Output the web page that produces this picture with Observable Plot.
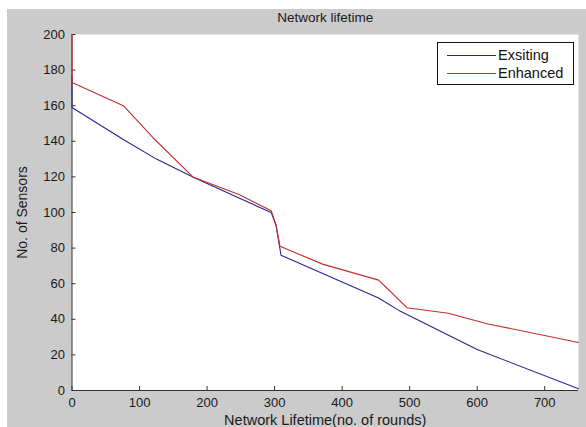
<!DOCTYPE html>
<html>
<head>
<meta charset="utf-8">
<script src="https://cdn.jsdelivr.net/npm/d3@7"></script>
<script src="https://cdn.jsdelivr.net/npm/@observablehq/plot@0.6"></script>
<style>
  html, body { margin: 0; padding: 0; background: #ffffff; }
  #page { position: relative; width: 586px; height: 427px; overflow: hidden; font-family: Arial, "Liberation Sans", sans-serif; }
  #gray { position: absolute; left: 7px; top: 9px; width: 579px; height: 418px; background: #cbcbcb; }
  #chart { position: absolute; left: 0; top: 9px; }
  #legend { position: absolute; left: 437px; top: 42px; width: 135px; height: 41px; background: #fff; border: 1px solid #111; font-size: 14.5px; color: #111; }
  .row { position: absolute; left: 9px; height: 18px; display: flex; align-items: center; }
  .sw { width: 49px; height: 0; border-top: 1px solid; margin-right: 2px; }
</style>
</head>
<body>
<div id="page">
  <div id="gray"></div>
  <div id="chart"></div>
  <div id="legend"></div>
</div>
<script>
const title = "Network lifetime";
const xLabel = "Network Lifetime(no. of rounds)";
const yLabel = "No. of Sensors";
const seriesNames = ["Exsiting", "Enhanced"];
const seriesColors = ["#24249c", "#c62c2c"];

const xTicks = [0, 100, 200, 300, 400, 500, 600, 700];
const yTicks = [0, 20, 40, 60, 80, 100, 120, 140, 160, 180, 200];

const existingX = [0, 0, 76, 125, 179, 248, 295, 302, 309.5, 454, 484, 600, 750];
const existingY = [177, 159, 141, 130, 120, 108, 100, 93, 76, 52, 45, 23, 1];

const enhancedX = [0, 0, 76, 120, 179, 248, 295, 302, 308, 371, 454, 465, 496, 557, 616, 750];
const enhancedY = [200, 173, 160, 142, 120, 110, 101, 93, 81, 71, 62, 58, 46.5, 43.4, 37.4, 27];

const existing = existingX.map((x, i) => ({x, y: existingY[i]}));
const enhanced = enhancedX.map((x, i) => ({x, y: enhancedY[i]}));

const W = 586, H = 418, mt = 25, mb = 37, ml = 71.5, mr = 8;
const plotW = W - ml - mr, plotH = H - mt - mb;
const axisColor = "#333";

const chart = Plot.plot({
  width: W, height: H,
  marginTop: mt, marginBottom: mb, marginLeft: ml, marginRight: mr,
  style: { background: "transparent", fontFamily: "Arial, 'Liberation Sans', sans-serif", fontSize: "13px", color: "#1a1a1a", overflow: "visible" },
  x: { domain: [0, 750] },
  y: { domain: [0, 200] },
  marks: [
    Plot.frame({ fill: "white", stroke: null }),
    Plot.ruleX([0], { stroke: axisColor }),
    Plot.ruleY([0], { stroke: axisColor }),
    Plot.tickX(xTicks, { x: d => d, insetTop: plotH - 4, stroke: axisColor }),
    Plot.tickY(yTicks, { y: d => d, insetRight: plotW - 4, stroke: axisColor }),
    Plot.line(existing, { x: "x", y: "y", stroke: seriesColors[0], strokeWidth: 1.1 }),
    Plot.line(enhanced, { x: "x", y: "y", stroke: seriesColors[1], strokeWidth: 1.1 }),
    Plot.axisX(xTicks, { tickSize: 0, tickPadding: 7, label: null }),
    Plot.axisY(yTicks, { tickSize: 0, tickPadding: 7, label: null }),
    Plot.text([xLabel], { frameAnchor: "bottom", dy: 30, fontSize: 14.5, lineAnchor: "middle" }),
    Plot.text([yLabel], { frameAnchor: "left", dx: -49.5, rotate: -90, fontSize: 14, lineAnchor: "middle", textAnchor: "middle" }),
    Plot.text([title], { frameAnchor: "top", dy: -17, fontSize: 13.5, lineAnchor: "middle" })
  ]
});
document.getElementById("chart").appendChild(chart);

const legend = document.getElementById("legend");
seriesNames.forEach((name, i) => {
  const row = document.createElement("div");
  row.className = "row";
  row.style.top = (3 + i * 18.4) + "px";
  const sw = document.createElement("div");
  sw.className = "sw";
  sw.style.borderTopColor = seriesColors[i];
  const t = document.createElement("span");
  t.textContent = name;
  row.appendChild(sw);
  row.appendChild(t);
  legend.appendChild(row);
});
</script>
</body>
</html>
